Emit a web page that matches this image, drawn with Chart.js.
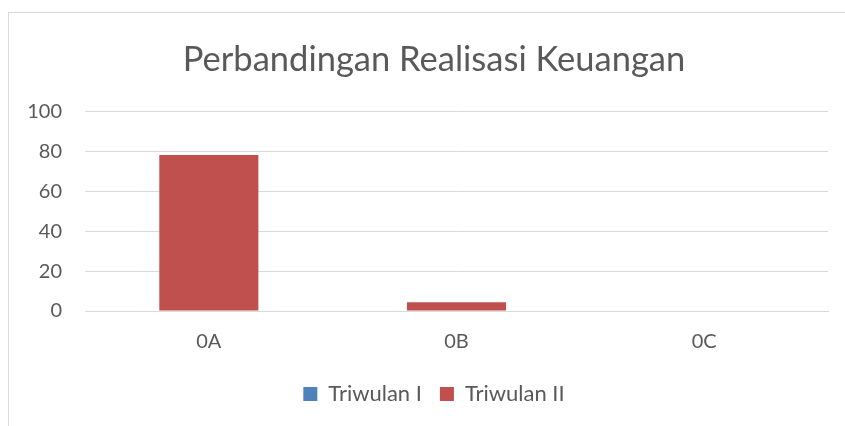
<!DOCTYPE html>
<html>
<head>
<meta charset="utf-8">
<script src="https://cdn.jsdelivr.net/npm/chart.js@4"></script>
<style>
  html, body { margin: 0; padding: 0; background: #fff; overflow: hidden; }
  #wrap { position: relative; width: 845px; height: 426px; overflow: hidden; }
  #frame { position: absolute; left: 8px; top: 12px; width: 900px; height: 500px;
           border-top: 1px solid #d9d9d9; border-left: 1px solid #d9d9d9; }
  canvas { position: absolute; left: 0; top: 0; }
</style>
</head>
<body>
<div id="wrap">
  <div id="frame"></div>
  <canvas id="chart" width="868" height="426"></canvas>
</div>
<script>
const categories = ['0A', '0B', '0C'];
const triwulanI = [0, 0, 0];
const triwulanII = [78.2, 4.4, 0];
const yTicks = [0, 20, 40, 60, 80, 100];

const textColor = '#595959';
const fontFamily = 'Lato, "Open Sans", sans-serif';

// canvas is a bit wider than the window: the original chart frame runs off the right edge,
// so title and legend are centred on that wider frame. An empty right axis keeps the plot edge.
const ctx = document.getElementById('chart').getContext('2d');
new Chart(ctx, {
    type: 'bar',
    data: {
        labels: categories,
        datasets: [
            { label: 'Triwulan I', data: triwulanI, backgroundColor: '#4f81bd' },
            { label: 'Triwulan II', data: triwulanII, backgroundColor: '#c0504d' }
        ]
    },
    options: {
        responsive: false,
        animation: false,
        datasets: {
            bar: { grouped: false, categoryPercentage: 1, barPercentage: 0.4 }
        },
        layout: { padding: { left: 0, right: 0, top: 0, bottom: 11 } },
        scales: {
            x: {
                grid: { display: false },
                border: { display: true, color: '#d9d9d9' },
                ticks: { color: textColor, font: { family: fontFamily, size: 20 }, padding: 11 }
            },
            y: {
                min: 0,
                max: 100,
                afterBuildTicks: (scale) => { scale.ticks = yTicks.map(v => ({ value: v })); },
                afterFit: (scale) => { scale.width = 85; },
                grid: { color: '#d9d9d9', drawTicks: false },
                border: { display: false },
                ticks: { color: textColor, font: { family: fontFamily, size: 20 }, padding: 23 }
            },
            spacer: {
                type: 'linear',
                position: 'right',
                afterFit: (scale) => { scale.width = 40; },
                grid: { display: false },
                border: { display: false },
                ticks: { display: false }
            }
        },
        plugins: {
            title: {
                display: true,
                text: 'Perbandingan Realisasi Keuangan',
                color: textColor,
                font: { family: fontFamily, size: 34.5, weight: 'normal' },
                padding: { top: 39, bottom: 31 }
            },
            legend: {
                position: 'bottom',
                labels: {
                    color: textColor,
                    font: { family: fontFamily, size: 22 },
                    boxWidth: 14,
                    boxHeight: 14,
                    padding: 18
                }
            },
            tooltip: { enabled: false }
        }
    }
});
</script>
</body>
</html>
